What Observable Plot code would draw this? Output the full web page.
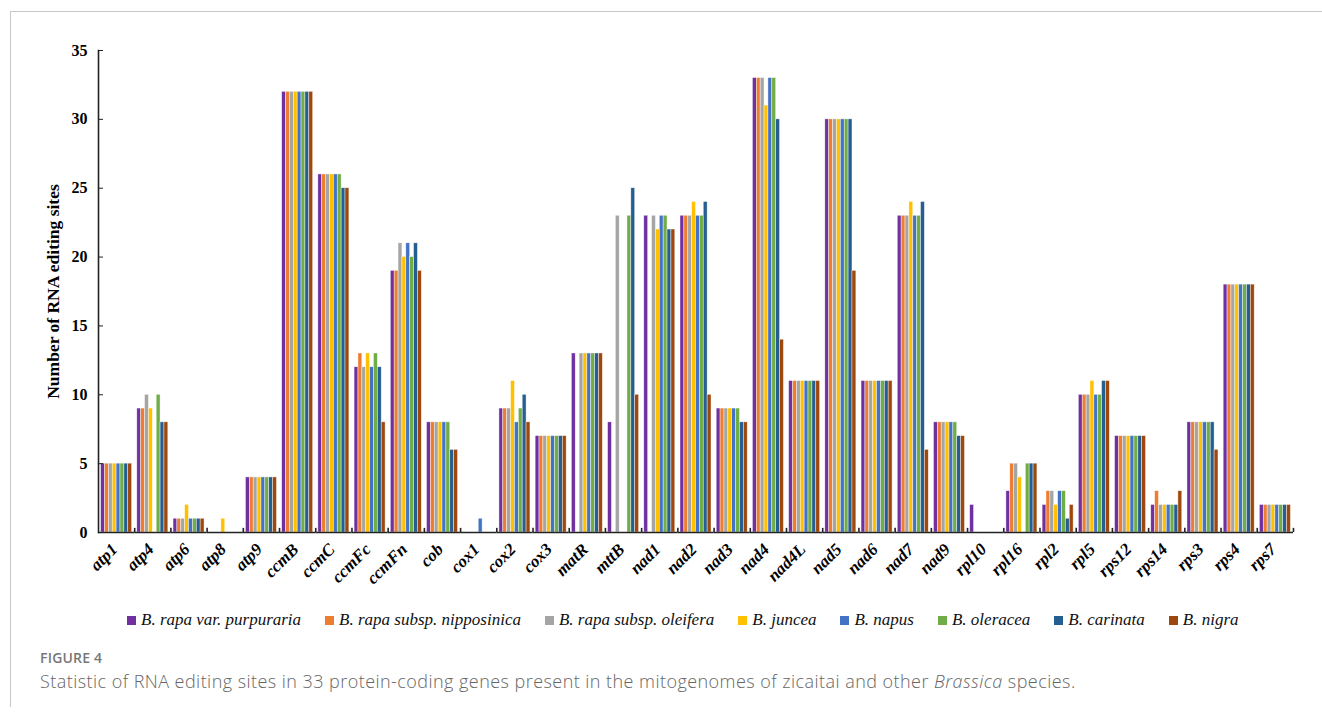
<!DOCTYPE html>
<html>
<head>
<meta charset="utf-8">
<script src="https://cdn.jsdelivr.net/npm/d3@7"></script>
<script src="https://cdn.jsdelivr.net/npm/@observablehq/plot@0.6"></script>
<style>
  html, body { margin: 0; padding: 0; background: #fff; }
  body { width: 1322px; height: 715px; position: relative; overflow: hidden; }
  #card { position: absolute; left: 10px; top: 11px; right: 0; bottom: 8px;
          border-top: 1px solid #c8c8c8; border-left: 1px solid #c8c8c8; }
  #chart { position: absolute; left: 0; top: 0; }
  #legend { position: absolute; left: 127px; top: 610px; display: flex; align-items: center;
            font-family: "Liberation Serif", "Times New Roman", serif; font-style: italic; font-size: 17px; color: #111; }
  #legend .item { display: flex; align-items: center; margin-right: 24px; }
  #legend .sw { width: 9px; height: 9px; margin-right: 5px; }
  #fig { position: absolute; left: 40px; top: 648px; font-family: "Open Sans", sans-serif;
         font-size: 14px; font-weight: 600; color: #777; letter-spacing: 0.2px; }
  #cap { position: absolute; left: 40px; top: 669px; font-family: "Open Sans", sans-serif;
         font-size: 18px; font-weight: 300; color: #666; letter-spacing: 0.45px; }
</style>
</head>
<body>
<div id="card"></div>
<div id="chart"></div>
<div id="legend"></div>
<div id="fig">FIGURE 4</div>
<div id="cap">Statistic of RNA editing sites in 33 protein-coding genes present in the mitogenomes of zicaitai and other <i>Brassica</i> species.</div>
<script>
// Protein-coding genes (x categories)
const genes = ["atp1","atp4","atp6","atp8","atp9","ccmB","ccmC","ccmFc","ccmFn","cob","cox1","cox2","cox3","matR","mttB","nad1","nad2","nad3","nad4","nad4L","nad5","nad6","nad7","nad9","rpl10","rpl16","rpl2","rpl5","rps12","rps14","rps3","rps4","rps7"];

// Species (series) and their colours
const species = ["B. rapa var. purpuraria","B. rapa subsp. nipposinica","B. rapa subsp. oleifera","B. juncea","B. napus","B. oleracea","B. carinata","B. nigra"];
const colors = ["#7030A0","#ED7D31","#A5A5A5","#FFC000","#4472C4","#70AD47","#255E91","#9E480E"];

// RNA editing sites per gene, one array per species
const purpuraria  = [5,9,1,0,4,32,26,12,19,8,0,9,7,13,8,23,23,9,33,11,30,11,23,8,2,3,2,10,7,2,8,18,2];
const nipposinica = [5,9,1,0,4,32,26,13,19,8,0,9,7,0,0,0,23,9,33,11,30,11,23,8,0,5,3,10,7,3,8,18,2];
const oleifera    = [5,10,1,0,4,32,26,12,21,8,0,9,7,13,23,23,23,9,33,11,30,11,23,8,0,5,3,10,7,2,8,18,2];
const juncea      = [5,9,2,1,4,32,26,13,20,8,0,11,7,13,0,22,24,9,31,11,30,11,24,8,0,4,2,11,7,2,8,18,2];
const napus       = [5,0,1,0,4,32,26,12,21,8,1,8,7,13,0,23,23,9,33,11,30,11,23,8,0,0,3,10,7,2,8,18,2];
const oleracea    = [5,10,1,0,4,32,26,13,20,8,0,9,7,13,23,23,23,9,33,11,30,11,23,8,0,5,3,10,7,2,8,18,2];
const carinata    = [5,8,1,0,4,32,25,12,21,6,0,10,7,13,25,22,24,8,30,11,30,11,24,7,0,5,1,11,7,2,8,18,2];
const nigra       = [5,8,1,0,4,32,25,8,19,6,0,8,7,13,10,22,10,8,14,11,19,11,6,7,0,5,2,11,7,3,6,18,2];

const yTicks = [0,5,10,15,20,25,30,35];

const seriesValues = [purpuraria, nipposinica, oleifera, juncea, napus, oleracea, carinata, nigra];
const rows = [];
genes.forEach((g, i) => {
  species.forEach((s, j) => rows.push({gene: g, species: s, value: seriesValues[j][i]}));
});

const serif = "'Liberation Serif', 'Times New Roman', serif";

const chart = Plot.plot({
  width: 1322,
  height: 600,
  marginLeft: 98,
  marginRight: 29,
  marginTop: 50,
  marginBottom: 68,
  style: {fontFamily: serif, background: "transparent"},
  fx: {domain: genes, paddingInner: 0, paddingOuter: 0, round: false, label: null},
  x: {domain: species, paddingInner: 0, paddingOuter: 0.67, round: false, axis: null},
  y: {domain: [0, 35], label: null},
  color: {domain: species, range: colors},
  marks: [
    Plot.barY(rows.filter(d => d.value > 0), {
      fx: "gene", x: "species", y: "value", fill: "species",
      stroke: "white", strokeWidth: 0.6, strokeOpacity: 0.7
    }),
    // group separators on the category axis
    Plot.ruleX(genes, {fx: d => d, x: () => "B. nigra", y1: 0, y2: 0.3, dx: 4.5, stroke: "#222", strokeWidth: 1.6}),
    Plot.ruleY([0], {stroke: "#222", strokeWidth: 1.6}),
    Plot.frame({anchor: "left", facetAnchor: "left", stroke: "#222", strokeWidth: 1.6}),
    Plot.axisY(yTicks, {
      anchor: "left", tickSize: -5, tickPadding: 16, tickFormat: d => d,
      fontWeight: "bold", fontSize: 16, fontFamily: serif, stroke: "#222", label: null
    }),
    // axis title, drawn alone so it can take its own size
    Plot.axisY([], {
      anchor: "left", tickSize: 0, fontWeight: "bold", fontSize: 17.5, fontFamily: serif,
      label: "Number of RNA editing sites", labelArrow: "none", labelAnchor: "center", labelOffset: 52
    }),
    Plot.axisFx({
      anchor: "bottom", tickSize: 0, tickRotate: -45, tickPadding: 14, dx: -2,
      fontWeight: "bold", fontStyle: "italic", fontSize: 17, fontFamily: serif, label: null
    })
  ]
});
document.getElementById("chart").appendChild(chart);

// species legend
const legend = document.getElementById("legend");
species.forEach((s, j) => {
  const item = document.createElement("div");
  item.className = "item";
  const sw = document.createElement("div");
  sw.className = "sw";
  sw.style.background = colors[j];
  const t = document.createElement("span");
  t.textContent = s;
  item.appendChild(sw);
  item.appendChild(t);
  legend.appendChild(item);
});
</script>
</body>
</html>
